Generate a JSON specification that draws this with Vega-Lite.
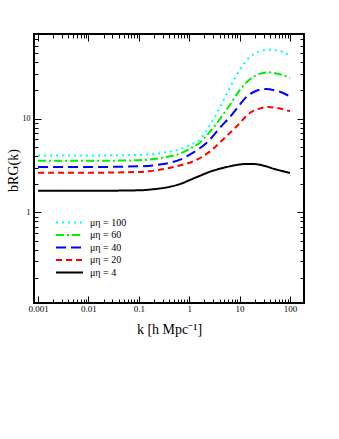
{
  "$schema": "https://vega.github.io/schema/vega-lite/v6.json",
  "width": 270,
  "height": 269,
  "autosize": {"type": "none"},
  "padding": {"left": 34, "top": 34, "right": 35, "bottom": 136},
  "background": "white",
  "config": {
    "view": {"stroke": "black", "strokeWidth": 2},
    "axis": {"domain": false, "grid": false, "tickColor": "black", "tickWidth": 1, "labelFont": "Liberation Serif", "titleFont": "Liberation Serif", "labelColor": "black", "titleColor": "black", "titleFontWeight": "normal", "labelOverlap": false, "labelFlush": false}
  },
  "data": {"values": [
    {"s": "μη = 100", "k": 0.001, "b": 4.05},
    {"s": "μη = 100", "k": 0.01, "b": 4.05},
    {"s": "μη = 100", "k": 0.1, "b": 4.1},
    {"s": "μη = 100", "k": 0.2, "b": 4.2},
    {"s": "μη = 100", "k": 0.4, "b": 4.45},
    {"s": "μη = 100", "k": 0.7, "b": 4.8},
    {"s": "μη = 100", "k": 1, "b": 5.2},
    {"s": "μη = 100", "k": 1.6, "b": 5.95},
    {"s": "μη = 100", "k": 2.5, "b": 8.3},
    {"s": "μη = 100", "k": 4, "b": 13},
    {"s": "μη = 100", "k": 6, "b": 20},
    {"s": "μη = 100", "k": 10, "b": 33},
    {"s": "μη = 100", "k": 15, "b": 44},
    {"s": "μη = 100", "k": 25, "b": 52},
    {"s": "μη = 100", "k": 40, "b": 54.5},
    {"s": "μη = 100", "k": 60, "b": 53},
    {"s": "μη = 100", "k": 100, "b": 47},
    {"s": "μη = 60", "k": 0.001, "b": 3.55},
    {"s": "μη = 60", "k": 0.01, "b": 3.55},
    {"s": "μη = 60", "k": 0.1, "b": 3.6},
    {"s": "μη = 60", "k": 0.2, "b": 3.72},
    {"s": "μη = 60", "k": 0.4, "b": 3.95},
    {"s": "μη = 60", "k": 0.7, "b": 4.3},
    {"s": "μη = 60", "k": 1, "b": 4.75},
    {"s": "μη = 60", "k": 1.6, "b": 5.5},
    {"s": "μη = 60", "k": 2.5, "b": 7.1},
    {"s": "μη = 60", "k": 4, "b": 9.8},
    {"s": "μη = 60", "k": 6, "b": 13.3},
    {"s": "μη = 60", "k": 10, "b": 20},
    {"s": "μη = 60", "k": 15, "b": 25.5},
    {"s": "μη = 60", "k": 25, "b": 30},
    {"s": "μη = 60", "k": 37, "b": 31.2},
    {"s": "μη = 60", "k": 60, "b": 30},
    {"s": "μη = 60", "k": 100, "b": 27.2},
    {"s": "μη = 40", "k": 0.001, "b": 3.05},
    {"s": "μη = 40", "k": 0.01, "b": 3.05},
    {"s": "μη = 40", "k": 0.1, "b": 3.1},
    {"s": "μη = 40", "k": 0.2, "b": 3.18},
    {"s": "μη = 40", "k": 0.4, "b": 3.37},
    {"s": "μη = 40", "k": 0.7, "b": 3.7},
    {"s": "μη = 40", "k": 1, "b": 4.1},
    {"s": "μη = 40", "k": 1.6, "b": 4.8},
    {"s": "μη = 40", "k": 2.2, "b": 5.5},
    {"s": "μη = 40", "k": 4, "b": 7.9},
    {"s": "μη = 40", "k": 7.5, "b": 11.5},
    {"s": "μη = 40", "k": 10, "b": 14},
    {"s": "μη = 40", "k": 14, "b": 17.3},
    {"s": "μη = 40", "k": 20, "b": 19.5},
    {"s": "μη = 40", "k": 32, "b": 20.7},
    {"s": "μη = 40", "k": 60, "b": 19.5},
    {"s": "μη = 40", "k": 100, "b": 17.3},
    {"s": "μη = 20", "k": 0.001, "b": 2.65},
    {"s": "μη = 20", "k": 0.01, "b": 2.65},
    {"s": "μη = 20", "k": 0.1, "b": 2.7},
    {"s": "μη = 20", "k": 0.2, "b": 2.79},
    {"s": "μη = 20", "k": 0.4, "b": 2.98},
    {"s": "μη = 20", "k": 0.7, "b": 3.2},
    {"s": "μη = 20", "k": 1.2, "b": 3.5},
    {"s": "μη = 20", "k": 2.6, "b": 4.48},
    {"s": "μη = 20", "k": 4.7, "b": 6.0},
    {"s": "μη = 20", "k": 8.8, "b": 8.3},
    {"s": "μη = 20", "k": 16, "b": 11.5},
    {"s": "μη = 20", "k": 25, "b": 12.8},
    {"s": "μη = 20", "k": 37, "b": 13.3},
    {"s": "μη = 20", "k": 60, "b": 12.9},
    {"s": "μη = 20", "k": 100, "b": 12},
    {"s": "μη = 4", "k": 0.001, "b": 1.7},
    {"s": "μη = 4", "k": 0.01, "b": 1.7},
    {"s": "μη = 4", "k": 0.1, "b": 1.72},
    {"s": "μη = 4", "k": 0.2, "b": 1.77},
    {"s": "μη = 4", "k": 0.4, "b": 1.87},
    {"s": "μη = 4", "k": 0.7, "b": 2.03},
    {"s": "μη = 4", "k": 1, "b": 2.2},
    {"s": "μη = 4", "k": 1.64, "b": 2.46},
    {"s": "μη = 4", "k": 2.5, "b": 2.7},
    {"s": "μη = 4", "k": 4.7, "b": 2.98},
    {"s": "μη = 4", "k": 8, "b": 3.18},
    {"s": "μη = 4", "k": 13.9, "b": 3.29},
    {"s": "μη = 4", "k": 20, "b": 3.28},
    {"s": "μη = 4", "k": 30, "b": 3.15},
    {"s": "μη = 4", "k": 50, "b": 2.9},
    {"s": "μη = 4", "k": 100, "b": 2.63}
  ]},
  "layer": [
    {
      "mark": {"type": "line", "interpolate": "monotone", "strokeWidth": 2, "clip": true},
      "encoding": {
        "x": {"field": "k", "type": "quantitative",
          "scale": {"type": "log", "domain": [0.00083, 190], "nice": false},
          "axis": {"orient": "bottom", "title": "k [h Mpc⁻¹]", "titleFontSize": 14, "titleY": 26, "titleBaseline": "middle",
            "values": [0.001,0.002,0.003,0.004,0.005,0.006,0.007,0.008,0.009,0.01,0.02,0.03,0.04,0.05,0.06,0.07,0.08,0.09,0.1,0.2,0.3,0.4,0.5,0.6,0.7,0.8,0.9,1,2,3,4,5,6,7,8,9,10,20,30,40,50,60,70,80,90,100],
            "format": "~g", "labelFontSize": 9, "labelPadding": 8,
            "labelExpr": "abs(log(datum.value)/LN10 - round(log(datum.value)/LN10)) < 0.001 ? datum.label : ''",
            "tickSize": {"condition": {"test": "abs(log(datum.value)/LN10 - round(log(datum.value)/LN10)) < 0.001", "value": -7}, "value": -4}}},
        "y": {"field": "b", "type": "quantitative",
          "scale": {"type": "log", "domain": [0.108, 80], "nice": false},
          "axis": {"orient": "left", "title": "bRG(k)", "titleFontSize": 14, "titleX": -21, "titleY": 136, "titleAngle": -90, "titleAlign": "center", "titleBaseline": "middle",
            "values": [0.2,0.3,0.4,0.5,0.6,0.7,0.8,0.9,1,2,3,4,5,6,7,8,9,10,20,30,40,50,60,70,80],
            "format": "~g", "labelFontSize": 8, "labelPadding": 11,
            "labelExpr": "abs(log(datum.value)/LN10 - round(log(datum.value)/LN10)) < 0.001 ? datum.label : ''",
            "tickSize": {"condition": {"test": "abs(log(datum.value)/LN10 - round(log(datum.value)/LN10)) < 0.001", "value": -7}, "value": -4}}},
        "color": {"field": "s", "type": "nominal",
          "sort": ["μη = 100", "μη = 60", "μη = 40", "μη = 20", "μη = 4"],
          "scale": {"domain": ["μη = 100", "μη = 60", "μη = 40", "μη = 20", "μη = 4"], "range": ["#00ffff", "#00ee00", "#0000ff", "#ff0000", "#000000"]},
          "legend": {"title": null, "orient": "none", "legendX": 30, "legendY": 183, "symbolType": "M -3 0 L 3 0", "symbolSize": 81, "symbolStrokeWidth": 2, "symbolFillColor": "transparent", "labelFont": "Liberation Serif", "labelFontSize": 10, "labelColor": "black", "rowPadding": 1.5, "labelOffset": 15}},
        "strokeDash": {"field": "s", "type": "nominal",
          "sort": ["μη = 100", "μη = 60", "μη = 40", "μη = 20", "μη = 4"],
          "scale": {"domain": ["μη = 100", "μη = 60", "μη = 40", "μη = 20", "μη = 4"], "range": [[2,4],[8,3,2,3],[10,5],[6,4],[1,0]]},
          "legend": {"title": null, "orient": "none", "legendX": 30, "legendY": 183, "symbolType": "M -3 0 L 3 0", "symbolSize": 81, "symbolStrokeWidth": 2, "symbolFillColor": "transparent", "labelFont": "Liberation Serif", "labelFontSize": 10, "labelColor": "black", "rowPadding": 1.5, "labelOffset": 15}}
      }
    },
    {
      "mark": {"type": "line", "opacity": 0},
      "encoding": {
        "x": {"field": "k", "type": "quantitative",
          "axis": {"orient": "top", "title": null, "labels": false,
            "values": [0.001,0.002,0.003,0.004,0.005,0.006,0.007,0.008,0.009,0.01,0.02,0.03,0.04,0.05,0.06,0.07,0.08,0.09,0.1,0.2,0.3,0.4,0.5,0.6,0.7,0.8,0.9,1,2,3,4,5,6,7,8,9,10,20,30,40,50,60,70,80,90,100],
            "tickSize": {"condition": {"test": "abs(log(datum.value)/LN10 - round(log(datum.value)/LN10)) < 0.001", "value": -7}, "value": -4}}},
        "y": {"field": "b", "type": "quantitative",
          "axis": {"orient": "right", "title": null, "labels": false,
            "values": [0.2,0.3,0.4,0.5,0.6,0.7,0.8,0.9,1,2,3,4,5,6,7,8,9,10,20,30,40,50,60,70,80],
            "tickSize": {"condition": {"test": "abs(log(datum.value)/LN10 - round(log(datum.value)/LN10)) < 0.001", "value": -7}, "value": -4}}},
        "detail": {"field": "s"}
      }
    }
  ],
  "resolve": {"axis": {"x": "independent", "y": "independent"}}
}
